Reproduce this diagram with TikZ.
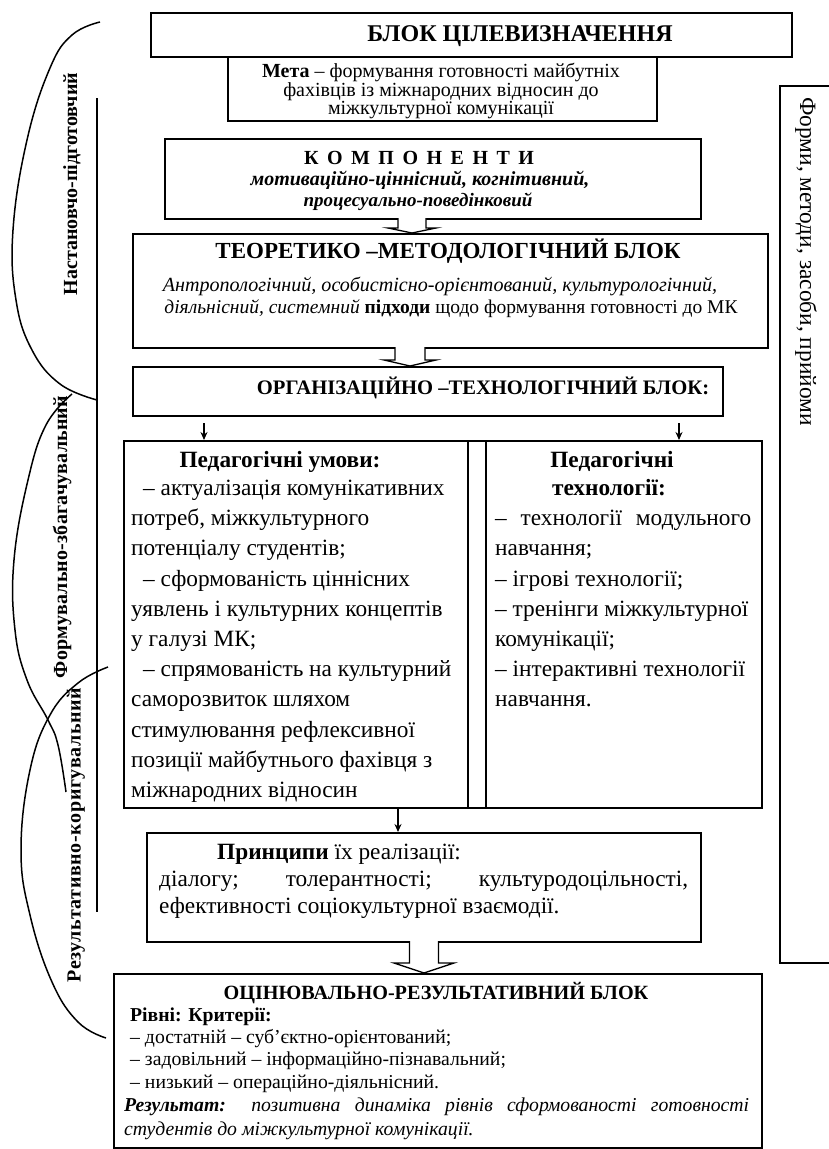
\documentclass[tikz,border=0pt]{standalone}
\usepackage{fontspec}
\setmainfont{Liberation Serif}
\usetikzlibrary{arrows.meta}
\newcommand\fsz[1]{\fontsize{#1}{#1}\selectfont}
\begin{document}
\begin{tikzpicture}[x=1pt,y=-1pt,
  box/.style={draw, line width=1.8pt, inner sep=0pt, anchor=north west},
  t/.style={inner sep=0pt, anchor=base west},
  tc/.style={inner sep=0pt, anchor=base},
  barrow/.style={draw, line width=1.3pt, fill=white, line join=miter},
  sarrow/.style={line width=1.2pt, -{Stealth[length=8pt,width=7pt]}},
  brace/.style={line width=1.5pt},
  rot/.style={inner sep=0pt, rotate=90, font=\fsz{20}\bfseries}]
\useasboundingbox (0,0) rectangle (829,1149);

% boxes
\node[box, minimum width=641pt, minimum height=44pt] (top) at (150,12) {};
\node[box, minimum width=429pt, minimum height=64pt] (meta) at (227,56) {};
\node[box, minimum width=536pt, minimum height=80pt] (komp) at (164,138) {};
\node[box, minimum width=635pt, minimum height=114pt] (theo) at (132,233) {};
\node[box, minimum width=590pt, minimum height=49pt] (org) at (132,366) {};
\node[box, minimum width=638pt, minimum height=367pt] (tab) at (123,440) {};
\node[box, minimum width=554pt, minimum height=109pt] (princ) at (146,832) {};
\node[box, minimum width=648pt, minimum height=174pt] (eval) at (113,973) {};
\node[box, minimum width=70pt, minimum height=877pt] (forms) at (779,85) {};

\coordinate (c1) at (468,0);
\coordinate (c2) at (486,0);
\draw[line width=1.8pt] (tab.north -| c1) -- (tab.south -| c1);
\draw[line width=1.8pt] (tab.north -| c2) -- (tab.south -| c2);

% block arrows
\coordinate (a1) at (412,218);
\draw[barrow] (a1) ++(-14,0) -- ++(0,10) -- ++(-10,0) -- ++(24,5) -- ++(24,-5) -- ++(-10,0) -- ++(0,-10);
\coordinate (a2) at (410,347);
\draw[barrow] (a2) ++(-15,0) -- ++(0,13) -- ++(-11,0) -- ++(26,6) -- ++(26,-6) -- ++(-11,0) -- ++(0,-13);
\coordinate (a3) at (424,941);
\draw[barrow] (a3) ++(-14.5,0) -- ++(0,22) -- ++(-15.5,0) -- ++(30,10) -- ++(30,-10) -- ++(-15.5,0) -- ++(0,-22);

% small arrows
\coordinate (s1) at (204,423);
\coordinate (s2) at (679,423);
\coordinate (s3) at (398,0);
\draw[sarrow] (s1) -- (s1 |- tab.north);
\draw[sarrow] (s2) -- (s2 |- tab.north);
\draw[sarrow] (tab.south -| s3) -- (princ.north -| s3);

% left brackets
\coordinate (v1) at (97,98);
\coordinate (v2) at (97,912);
\draw[brace] (v1) -- (v2);
\draw[brace] plot[smooth, tension=0.7] coordinates {(100,22) (72,35) (50,68) (27,140) (13,230) (16,300) (32,350) (60,384) (97,400)};
\draw[brace] plot[smooth, tension=0.7] coordinates {(72,394) (46,425) (28,480) (14,560) (15,630) (27,680) (48,720) (58,745) (66,792)};
\draw[brace] plot[smooth, tension=0.7] coordinates {(108,667) (78,683) (50,715) (30,770) (21,850) (30,915) (52,982) (78,1022) (106,1038)};

\node[rot] (r1) at (72,184) {Настановчо-підготовчий};
\node[rot] (r2) at (62,537) {\addfontfeature{LetterSpace=1}Формувально-збагачувальний};
\node[rot] (r3) at (76,835) {\addfontfeature{LetterSpace=3}Результативно-коригувальний};

% right text
\node[inner sep=0pt, rotate=-90, anchor=west, font=\fsz{23.4}] (ft) at (806,97) {Форми, методи, засоби, прийоми};

% top
\node[tc, font=\fsz{24}\bfseries] (tt) at (520,41) {БЛОК ЦІЛЕВИЗНАЧЕННЯ};
\node[tc, font=\fsz{20}] (m1) at (441,77) {\textbf{Мета} – формування готовності майбутніх};
\node[tc, font=\fsz{20}] (m2) at (441,96) {фахівців із міжнародних відносин до};
\node[tc, font=\fsz{20}] (m3) at (441,114) {міжкультурної комунікації};

\node[tc, font=\fsz{20}\bfseries] (k1) at (419,164) {\makebox[230pt][s]{К О М П О Н Е Н Т И}};
\node[tc, font=\fsz{20}\bfseries\itshape] (k2) at (420,185) {мотиваційно-ціннісний, когнітивний,};
\node[tc, font=\fsz{19}\bfseries\itshape] (k3) at (418,206) {процесуально-поведінковий};

\node[tc, font=\fsz{23}\bfseries] (th1) at (448,258) {ТЕОРЕТИКО –МЕТОДОЛОГІЧНИЙ БЛОК};
\node[tc, font=\fsz{20.1}\itshape] (th2) at (440,291) {Антропологічний, особистісно-орієнтований, культурологічний,};
\node[tc, font=\fsz{19.5}] (th3) at (451,313) {\textit{діяльнісний, системний} \textbf{підходи} щодо формування готовності до МК};

\node[tc, font=\fsz{20.6}\bfseries] (o1) at (483,394) {ОРГАНІЗАЦІЙНО –ТЕХНОЛОГІЧНИЙ БЛОК:};

% table left
\node[tc, font=\fsz{23.3}\bfseries] (pu) at (280,467) {Педагогічні умови:};
\node[t, font=\fsz{23.3}] (u1) at (143,495) {– актуалізація комунікативних};
\node[t, font=\fsz{23.3}] (u2) at (131,525) {потреб, міжкультурного};
\node[t, font=\fsz{23.3}] (u3) at (131,555) {потенціалу студентів;};
\node[t, font=\fsz{23.3}] (u4) at (143,586) {– сформованість ціннісних};
\node[t, font=\fsz{23.3}] (u5) at (131,616) {уявлень і культурних концептів};
\node[t, font=\fsz{23.3}] (u6) at (131,646) {у галузі МК;};
\node[t, font=\fsz{23.3}] (u7) at (143,676) {– спрямованість на культурний};
\node[t, font=\fsz{23.3}] (u8) at (131,706) {саморозвиток шляхом};
\node[t, font=\fsz{23.3}] (u9) at (131,737) {стимулювання рефлексивної};
\node[t, font=\fsz{23.3}] (u10) at (131,767) {позиції майбутнього фахівця з};
\node[t, font=\fsz{23.3}] (u11) at (131,797) {міжнародних відносин};

% table right
\node[tc, font=\fsz{23.3}\bfseries] (pt1) at (612,467) {Педагогічні};
\node[tc, font=\fsz{23.3}\bfseries] (pt2) at (609,495) {технології:};
\node[t, font=\fsz{23.3}] (q1) at (495,525) {\makebox[256pt][s]{– технології модульного}};
\node[t, font=\fsz{23.3}] (q2) at (495,555) {навчання;};
\node[t, font=\fsz{23.3}] (q3) at (495,586) {– ігрові технології;};
\node[t, font=\fsz{23.3}] (q4) at (495,616) {– тренінги міжкультурної};
\node[t, font=\fsz{23.3}] (q5) at (495,646) {комунікації;};
\node[t, font=\fsz{23.3}] (q6) at (495,676) {– інтерактивні технології};
\node[t, font=\fsz{23.3}] (q7) at (495,706) {навчання.};

% principles
\node[t, font=\fsz{23.3}] (p1) at (217,859) {\textbf{Принципи} їх реалізації:};
\node[t, font=\fsz{23.3}] (p2) at (159,886) {\makebox[529pt][s]{діалогу; толерантності; культуродоцільності,}};
\node[t, font=\fsz{23.3}] (p3) at (159,913) {ефективності соціокультурної взаємодії.};

% evaluation
\node[tc, font=\fsz{20.2}\bfseries] (e0) at (436,999) {ОЦІНЮВАЛЬНО-РЕЗУЛЬТАТИВНИЙ БЛОК};
\node[t, font=\fsz{19.7}\bfseries] (e1) at (130,1021) {Рівні: Критерії:};
\node[t, font=\fsz{19.7}] (e2) at (130,1043) {– достатній – суб’єктно-орієнтований;};
\node[t, font=\fsz{19.7}] (e3) at (130,1065) {– задовільний – інформаційно-пізнавальний;};
\node[t, font=\fsz{19.7}] (e4) at (130,1088) {– низький – операційно-діяльнісний.};
\node[t, font=\fsz{19.7}] (e5) at (124,1111) {\makebox[625pt][s]{\textbf{\textit{Результат:}} \textit{позитивна динаміка рівнів сформованості готовності}}};
\node[t, font=\fsz{19.7}\itshape] (e6) at (124,1135) {студентів до міжкультурної комунікації.};
\end{tikzpicture}
\end{document}
